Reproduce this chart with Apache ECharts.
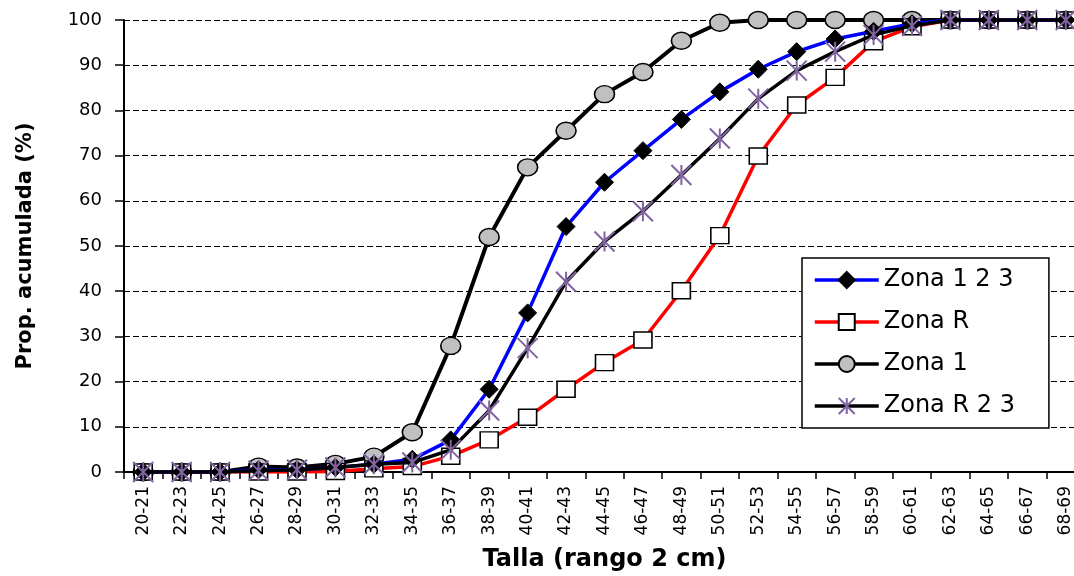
<!DOCTYPE html>
<html>
<head>
<meta charset="utf-8">
<script src="https://cdn.jsdelivr.net/npm/echarts@6/dist/echarts.min.js"></script>
<style>
html,body{margin:0;padding:0;background:#fff;overflow:hidden;}
#chart{width:1074px;height:576px;}
</style>
</head>
<body>
<div id="chart"></div>
<script>
const categories = ['20-21','22-23','24-25','26-27','28-29','30-31','32-33','34-35','36-37','38-39','40-41','42-43','44-45','46-47','48-49','50-51','52-53','54-55','56-57','58-59','60-61','62-63','64-65','66-67','68-69'];
const zona123 = [0,0,0,0.5,0.5,1,1.7,2.8,7.1,18.3,35.2,54.3,64.1,71.1,78,84.1,89.1,93,95.8,97.5,99.2,100,100,100,100];
const zonaR   = [0,0,0,0,0,0.1,0.7,1.2,3.5,7.1,12.1,18.3,24.2,29.2,40.1,52.3,69.9,81.2,87.3,95.2,98.5,100,100,100,100];
const zona1   = [0,0,0,1.2,1,1.8,3.4,8.8,27.9,52,67.4,75.5,83.6,88.5,95.4,99.4,100,100,100,100,100,100,100,100,100];
const zonaR23 = [0,0,0,0.3,0.5,1,1.7,2.1,4.9,13.6,27.4,42.1,51,57.7,65.7,73.8,82.6,88.8,93,96.7,98.7,100,100,100,100];
const yTicks = {min:0, max:100, interval:10};

const FONT = 'DejaVu Sans';
const chart = echarts.init(document.getElementById('chart'), null, {renderer:'canvas'});
const starPath = 'path://M0,0L20,20M20,0L0,20M10,0L10,20';

chart.setOption({
  animation:false,
  backgroundColor:'#ffffff',
  grid:{left:124, width:961, top:20, bottom:104, containLabel:false, outerBoundsMode:'none'},
  legend:{
    orient:'vertical',
    left:802, top:258,
    data:['Zona 1 2 3','Zona R','Zona 1','Zona R 2 3'],
    itemWidth:64, itemHeight:20, itemGap:18,
    padding:[10,34,10,11],
    backgroundColor:'#ffffff',
    borderColor:'#000000', borderWidth:1.5,
    lineStyle:{width:3.5},
    textStyle:{fontFamily:FONT, fontSize:24, color:'#000', lineHeight:24}
  },
  xAxis:{
    type:'category',
    data:categories,
    boundaryGap:true,
    name:'Talla (rango 2 cm)',
    nameLocation:'middle',
    nameGap:76,
    nameTextStyle:{fontFamily:FONT, fontSize:24, fontWeight:'bold', color:'#000'},
    axisLine:{show:true, lineStyle:{color:'#000', width:2}},
    axisTick:{show:true, inside:false, length:7, lineStyle:{color:'#000', width:1.5}},
    axisLabel:{rotate:90, margin:14, fontFamily:FONT, fontSize:17, color:'#000', interval:0},
    splitLine:{show:false}
  },
  yAxis:{
    type:'value',
    min:yTicks.min, max:yTicks.max, interval:yTicks.interval,
    name:'Prop. acumulada (%)',
    nameLocation:'middle',
    nameGap:88,
    nameTextStyle:{fontFamily:FONT, fontSize:21, fontWeight:'bold', color:'#000'},
    axisLine:{show:true, lineStyle:{color:'#000', width:2}},
    axisTick:{show:true, inside:false, length:9, lineStyle:{color:'#000', width:1.5}},
    axisLabel:{margin:22, fontFamily:FONT, fontSize:18, color:'#000'},
    splitLine:{show:true, lineStyle:{color:'#000', width:1, type:[6,3]}}
  },
  series:[
    {
      name:'Zona 1 2 3', type:'line', data:zona123, z:3,
      symbol:'diamond', symbolSize:[18,18],
      lineStyle:{color:'#0000ff', width:3.5},
      itemStyle:{color:'#000000', borderColor:'#000000', borderWidth:1}
    },
    {
      name:'Zona R', type:'line', data:zonaR, z:2,
      symbol:'rect', symbolSize:[18,16],
      lineStyle:{color:'#ff0000', width:3.5},
      itemStyle:{color:'#ffffff', borderColor:'#000000', borderWidth:1.5}
    },
    {
      name:'Zona 1', type:'line', data:zona1, z:1,
      symbol:'circle', symbolSize:[20,17],
      lineStyle:{color:'#000000', width:4},
      itemStyle:{color:'#c0c0c0', borderColor:'#000000', borderWidth:1.5}
    },
    {
      name:'Zona R 2 3', type:'line', data:zonaR23, z:4,
      symbol:starPath, symbolSize:[20,20],
      lineStyle:{color:'#000000', width:3.5},
      itemStyle:{color:'rgba(0,0,0,0)', borderColor:'#8064a2', borderWidth:2}
    }
  ]
});
</script>
</body>
</html>
